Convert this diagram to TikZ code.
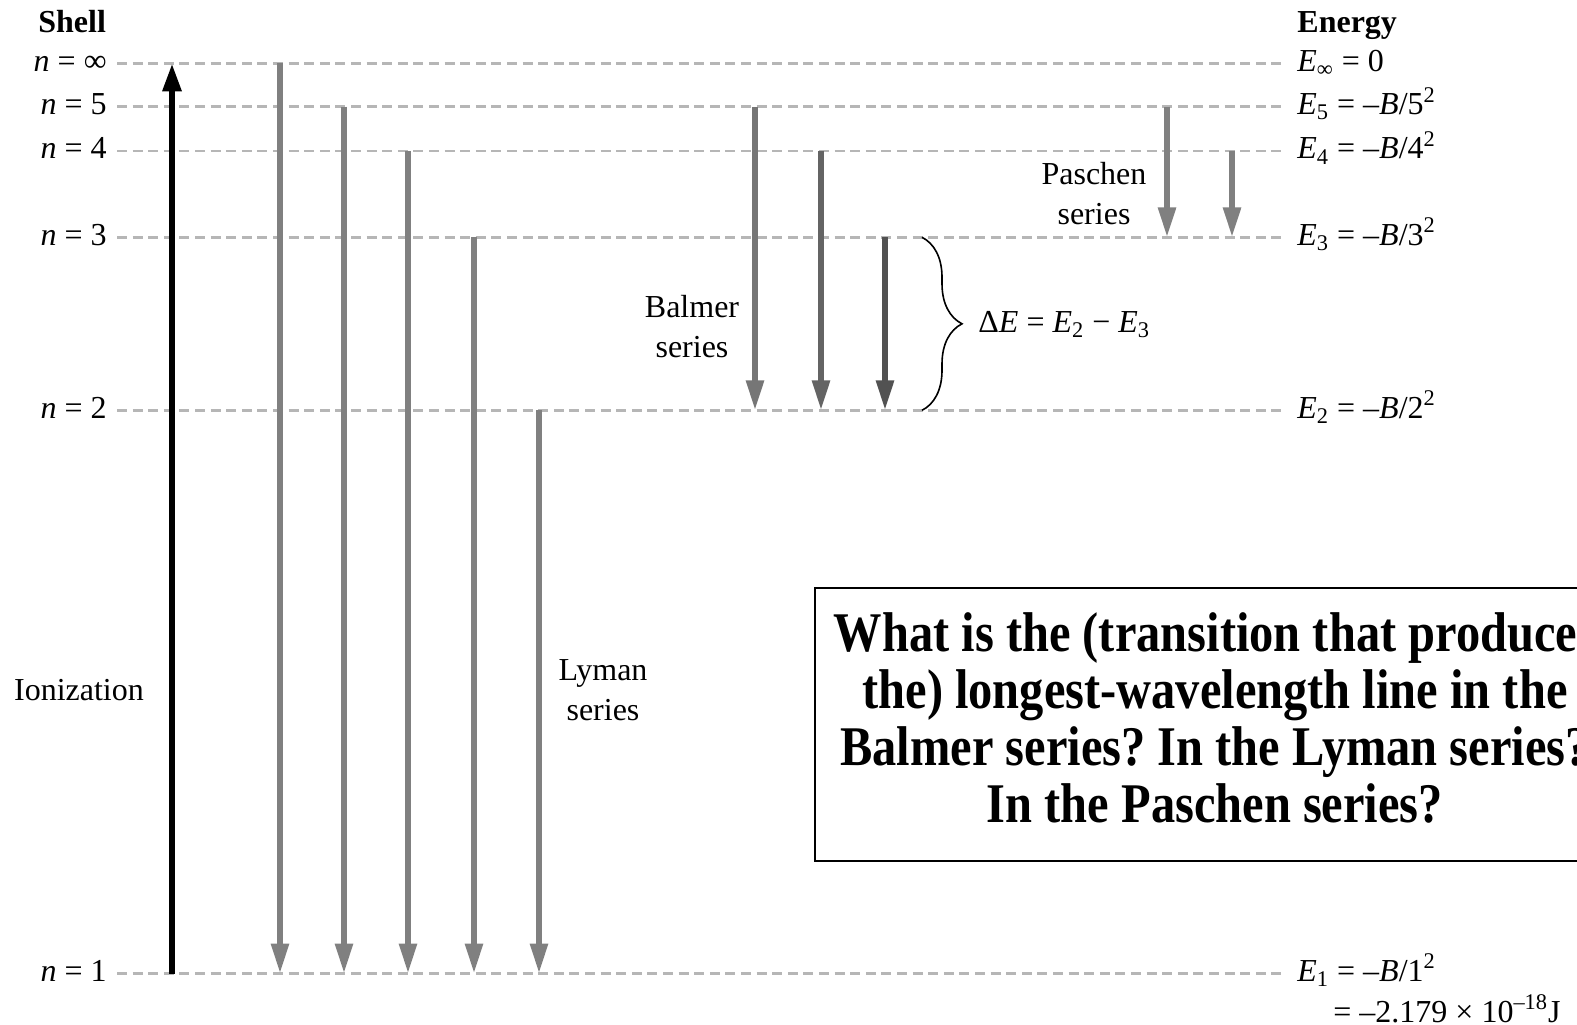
\documentclass[tikz,border=0pt]{standalone}
\usepackage{fontspec}
\setmainfont{Liberation Serif}
\newfontfamily\qfont[FakeStretch=0.865]{Liberation Serif}
\usetikzlibrary{arrows.meta,decorations.pathreplacing}
\definecolor{lvc}{RGB}{182,182,182}
\definecolor{lyc}{RGB}{128,128,128}
\definecolor{bac}{RGB}{118,118,118}
\definecolor{bbc}{RGB}{100,100,100}
\definecolor{bcc}{RGB}{82,82,82}
\tikzset{lvl/.style={draw=lvc,line width=1.3pt,dash pattern=on 5pt off 2.8pt},
 trans/.style={draw=lyc,line width=2.9pt,-{Triangle[length=15pt,width=8.5pt]}},
 ionarr/.style={draw=black,line width=3pt,-{Triangle[length=14pt,width=9pt]}},
 lab/.style={inner sep=0pt},ser/.style={lab,align=center},
 head/.style={lab,anchor=base west,font=\bfseries\fontsize{16}{20}\selectfont},
 qbox/.style={draw,line width=1.2pt,minimum width=400pt,minimum height=136.5pt},
 qtext/.style={lab,align=center,font=\qfont\bfseries\fontsize{28}{28.5}\selectfont},
 every node/.style={font=\fontsize{16}{20}\selectfont}}
\frenchspacing
\begin{document}
\begin{tikzpicture}[x=0.5pt,y=-0.5pt]
\clip (0,0) rectangle (1577,1024);
\node[head] (shell) at (38,32) {Shell};\node[head] (energy) at (1297,32) {Energy};
% levels
\foreach \k/\y/\nl/\el in {inf/63.4/{\textit{n} = ∞}/{\textit{E}\textsubscript{∞} = 0},
 5/106.6/{\textit{n} = 5}/{\textit{E}\textsubscript{5} = –\textit{B}/5\textsuperscript{2}},
 4/150.9/{\textit{n} = 4}/{\textit{E}\textsubscript{4} = –\textit{B}/4\textsuperscript{2}},
 3/237.3/{\textit{n} = 3}/{\textit{E}\textsubscript{3} = –\textit{B}/3\textsuperscript{2}},
 2/410.3/{\textit{n} = 2}/{\textit{E}\textsubscript{2} = –\textit{B}/2\textsuperscript{2}},
 1/973.5/{\textit{n} = 1}/{\textit{E}\textsubscript{1} = –\textit{B}/1\textsuperscript{2}}}{
 \node[lab,anchor=base east] (n\k) at (107,\y+8) {\nl};
 \node[lab,anchor=base west] (e\k) at (1297,\y+8) {\el};
 \coordinate (l\k) at (117,\y);\coordinate (r\k) at (1285,\y);
 \draw[lvl] (l\k) -- (r\k);}
\node[lab,anchor=base west] (eval) at (1333,1022) {= –2.179 × 10\textsuperscript{–18}J};
% transitions
\coordinate (ib) at (172,0 |- l1);\coordinate (it) at (172,0 |- linf);
\draw[ionarr] (ib) -- (it);
\foreach \x/\t/\b/\c [count=\i] in {280/inf/1/lyc,344/5/1/lyc,408/4/1/lyc,474/3/1/lyc,539/2/1/lyc,
 755/5/2/bac,821/4/2/bbc,885/3/2/bcc,1167/5/3/lyc,1232/4/3/lyc}{
 \coordinate (s\i) at (\x,0 |- l\t);\coordinate (f\i) at (\x,0 |- l\b);
 \draw[trans,draw=\c] (s\i) -- (f\i);}
\node[ser] (ionl) at (79,690) {Ionization};
\node[ser] (lym) at (603,690) {Lyman\\series};
\node[ser] (bal) at (692,327) {Balmer\\series};
\node[ser] (pas) at (1094,194) {Paschen\\series};
% brace
\coordinate (bt) at (922,0 |- l3);\coordinate (bb) at (922,0 |- l2);
\draw[decorate,decoration={brace,amplitude=20pt},line width=0.8pt] (bt) -- (bb);
\node[lab,anchor=base west] (de) at (978,332) {Δ\textit{E} = \textit{E}\textsubscript{2} − \textit{E}\textsubscript{3}};
% question
\node[qbox] (q) at (1215,724.5) {};
\node[qtext] (qt) at (1215,718) {What is the (transition that produces\\the) longest-wavelength line in the\\Balmer series? In the Lyman series?\\In the Paschen series?};
\end{tikzpicture}
\end{document}
